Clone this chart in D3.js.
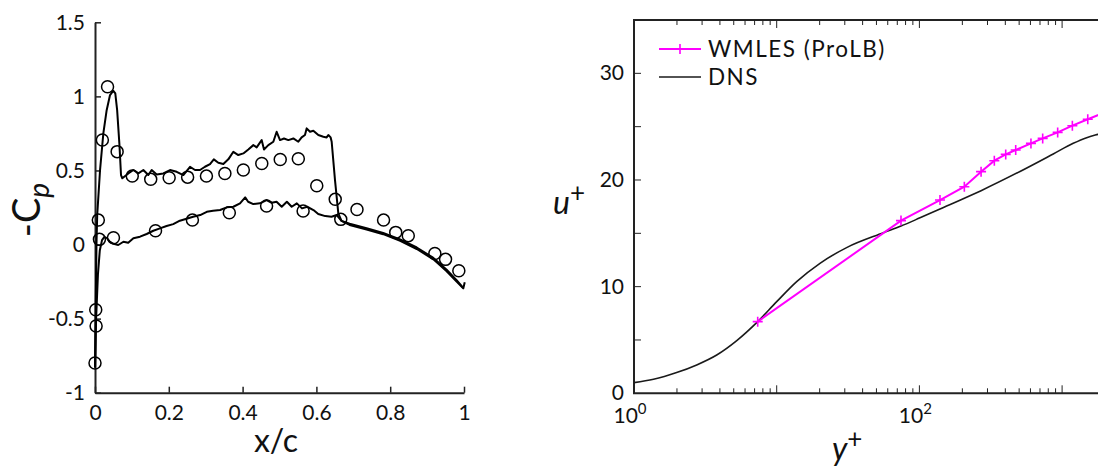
<!DOCTYPE html>
<html>
<head>
<meta charset="utf-8">
<script src="https://cdn.jsdelivr.net/npm/d3@7"></script>
<style>
  html, body { margin: 0; padding: 0; background: #fff; }
  svg { display: block; }
  text { font-family: Lato, "Open Sans", sans-serif; fill: #111; }
</style>
</head>
<body>
<svg id="fig" width="1098" height="469"></svg>
<script>
// ---------- Pressure coefficient along the chord ----------
const cpTicks = [-1, -0.5, 0, 0.5, 1, 1.5];
const xcTicks = [0, 0.2, 0.4, 0.6, 0.8, 1];

// LES, suction side: [x/c, -Cp]
const lesUpper = [
  [0.000,-0.83],[0.002,-0.40],[0.004,0.00],[0.006,0.20],[0.0136,0.50],[0.0226,0.75],
  [0.0316,0.907],[0.0407,1.009],[0.0497,1.038],[0.055,1.02],[0.060,0.907],[0.066,0.683],
  [0.0705,0.469],[0.074,0.447],[0.0903,0.480],[0.1039,0.503],[0.1174,0.480],[0.131,0.503],
  [0.1445,0.469],[0.1536,0.503],[0.1671,0.473],[0.1852,0.480],[0.2033,0.503],[0.2213,0.491],
  [0.2394,0.469],[0.2575,0.525],[0.271,0.503],[0.2846,0.503],[0.298,0.525],[0.3117,0.543],
  [0.322,0.575],[0.3342,0.552],[0.3478,0.543],[0.3613,0.575],[0.3749,0.626],[0.3884,0.604],
  [0.402,0.615],[0.4155,0.642],[0.4291,0.671],[0.4381,0.656],[0.4517,0.705],[0.458,0.642],
  [0.4697,0.671],[0.4833,0.694],[0.4923,0.761],[0.5014,0.705],[0.5122,0.716],[0.5239,0.705],
  [0.5375,0.716],[0.551,0.694],[0.560,0.723],[0.569,0.739],[0.5736,0.784],[0.5827,0.761],
  [0.5917,0.768],[0.6052,0.739],[0.6188,0.728],[0.6278,0.723],[0.6323,0.739],[0.6386,0.723],
  [0.6414,0.694],[0.6504,0.435],[0.6594,0.21],[0.668,0.160],[0.690,0.140],[0.736,0.110],
  [0.781,0.078],[0.827,0.035],[0.872,-0.020],[0.917,-0.090],[0.953,-0.170],[0.980,-0.240],
  [0.998,-0.292]
];

// LES, pressure side: [x/c, -Cp]
const lesLower = [
  [0.000,-0.83],[0.003,-0.50],[0.008,-0.20],[0.013,-0.04],[0.019,0.03],[0.025,0.05],
  [0.032,0.045],[0.040,0.02],[0.050,0.005],[0.063,-0.003],[0.077,0.019],[0.090,0.012],
  [0.104,0.042],[0.122,0.053],[0.140,0.071],[0.158,0.093],[0.176,0.109],[0.194,0.125],
  [0.212,0.138],[0.230,0.161],[0.248,0.174],[0.266,0.188],[0.285,0.199],[0.303,0.221],
  [0.320,0.228],[0.339,0.233],[0.357,0.251],[0.375,0.255],[0.393,0.278],[0.407,0.318],
  [0.415,0.289],[0.429,0.273],[0.447,0.278],[0.465,0.300],[0.479,0.282],[0.492,0.289],
  [0.506,0.255],[0.520,0.289],[0.533,0.255],[0.547,0.278],[0.561,0.244],[0.575,0.255],
  [0.592,0.233],[0.605,0.206],[0.624,0.192],[0.641,0.188],[0.655,0.199],[0.668,0.160],
  [0.690,0.132],[0.736,0.102],[0.781,0.070],[0.827,0.025],[0.872,-0.030],[0.917,-0.100],
  [0.953,-0.180],[0.980,-0.250],[0.998,-0.296],[1.002,-0.255]
];

// Experiment, both surfaces: [x/c, -Cp]
const expUpper = [
  [0.000,-0.80],[0.003,-0.55],[0.002,-0.44],[0.009,0.165],[0.020,0.705],[0.034,1.065],
  [0.060,0.627],[0.101,0.462],[0.151,0.440],[0.201,0.451],[0.251,0.455],[0.302,0.462],
  [0.352,0.480],[0.402,0.503],[0.452,0.547],[0.502,0.574],[0.551,0.579],[0.601,0.397],
  [0.651,0.305],[0.666,0.170],[0.710,0.237],[0.782,0.165],[0.815,0.082],[0.849,0.060],
  [0.921,-0.060],[0.950,-0.100],[0.986,-0.177]
];
const expLower = [
  [0.012,0.035],[0.050,0.046],[0.164,0.093],[0.264,0.165],[0.364,0.215],[0.465,0.260],
  [0.564,0.226]
];

// ---------- Mean velocity profile in wall units ----------
const uTicks = [0, 10, 20, 30];
const uMinorTicks = [5, 15, 25];
const yPlusLabelled = [1, 100];

// WMLES (ProLB): [y+, u+]
const wmles = [
  [7.36,6.72],[74.3,16.19],[139.4,18.12],[206.5,19.37],[270.5,20.78],[335,21.81],
  [402.6,22.40],[473,22.81],[605,23.43],[731,23.90],[931,24.46],[1180,25.09],
  [1513,25.69],[1950,26.30]
];

// DNS: [y+, u+]
const dns = [
  [1,1.0],[1.37,1.31],[1.99,1.94],[2.75,2.66],[3.8,3.59],[5.25,4.94],[7.36,6.72],
  [10,8.59],[13.8,10.47],[20.1,12.19],[30.9,13.66],[55.9,15.05],[74.3,15.68],
  [101,16.45],[139.4,17.28],[206.5,18.28],[270.5,19.0],[507,20.8],[867,22.44],
  [1197,23.44],[1486,23.97],[1785,24.28],[2200,24.6]
];

const svg = d3.select("#fig");

// ===== Left panel =====
const xL = d3.scaleLinear().domain([0, 1]).range([95, 464]);
const yL = d3.scaleLinear().domain([-1, 1.5]).range([392.7, 22.3]);
const gL = svg.append("g");

const numFmt = d => String(d);

const axL = gL.append("g").attr("transform", `translate(${xL(0)},0)`)
  .call(d3.axisLeft(yL).tickValues(cpTicks).tickFormat(numFmt)
    .tickSizeInner(-6).tickSizeOuter(0).tickPadding(10));
const axB = gL.append("g").attr("transform", `translate(0,${yL(-1)})`)
  .call(d3.axisBottom(xL).tickValues(xcTicks).tickFormat(numFmt)
    .tickSizeInner(-6).tickSizeOuter(0).tickPadding(12));
[axL, axB].forEach(a => {
  a.select(".domain").attr("stroke", "#222").attr("stroke-width", 2);
  a.selectAll(".tick line").attr("stroke", "#222").attr("stroke-width", 1.5);
  a.selectAll(".tick text").attr("font-size", 21).attr("font-family", "Lato, sans-serif").attr("fill", "#111");
});

const lineL = d3.line().x(d => xL(d[0])).y(d => yL(d[1]));
[lesUpper, lesLower].forEach(s => {
  gL.append("path").datum(s).attr("d", lineL)
    .attr("fill", "none").attr("stroke", "#000").attr("stroke-width", 2)
    .attr("stroke-linejoin", "round");
});
gL.append("g").selectAll("circle").data(expUpper.concat(expLower)).join("circle")
  .attr("cx", d => xL(d[0])).attr("cy", d => yL(d[1])).attr("r", 6)
  .attr("fill", "none").attr("stroke", "#000").attr("stroke-width", 1.5);

// axis titles
gL.append("text").attr("x", 276).attr("y", 452).attr("text-anchor", "middle")
  .attr("font-size", 32).text("x/c");
const cpLabel = gL.append("text").attr("transform", "translate(40,210) rotate(-90)")
  .attr("text-anchor", "middle").attr("font-size", 38);
cpLabel.append("tspan").text("-C");
cpLabel.append("tspan").attr("font-size", 28).attr("font-style", "italic").attr("dy", 9).text("p");

// ===== Right panel =====
const x0 = 634, decade = 142.7;
const xR = d3.scaleLog().domain([1, 1e4]).range([x0, x0 + 4 * decade]);
const yR = d3.scaleLinear().domain([0, 35]).range([393.3, 20]);
const gR = svg.append("g");

// minor and major log ticks on bottom and top
const logTicks = [];
for (let e = 0; e < 4; e++) for (let m = 1; m < 10; m++) logTicks.push(m * Math.pow(10, e));
logTicks.push(1e4);
[[yR(0), -1], [yR(35), 1]].forEach(([yy, dir]) => {
  gR.append("g").selectAll("line").data(logTicks.filter(v => v > 1)).join("line")
    .attr("x1", d => xR(d)).attr("x2", d => xR(d))
    .attr("y1", yy).attr("y2", d => yy + dir * (Number.isInteger(Math.log10(d)) ? 8 : 5))
    .attr("stroke", "#222").attr("stroke-width", 1);
});
// y ticks
gR.append("g").selectAll("line").data(uTicks.concat(uMinorTicks).filter(v => v > 0)).join("line")
  .attr("x1", x0).attr("x2", x0 + 7).attr("y1", d => yR(d)).attr("y2", d => yR(d))
  .attr("stroke", "#222").attr("stroke-width", 1);
gR.append("g").selectAll("text").data(uTicks).join("text")
  .attr("x", 624).attr("y", d => yR(d) + 7).attr("text-anchor", "end")
  .attr("font-size", 21).text(d => d);
// x tick labels (powers of ten)
const xl = gR.append("g").selectAll("text").data(yPlusLabelled).join("text")
  .attr("x", d => xR(d) - 4).attr("y", 423).attr("text-anchor", "middle").attr("font-size", 21);
xl.append("tspan").text("10");
xl.append("tspan").attr("font-size", 15).attr("dy", -9).text(d => Math.round(Math.log10(d)));

// frame
gR.append("path")
  .attr("d", `M${x0 + 4 * decade},${yR(35)}H${x0}V${yR(0)}H${x0 + 4 * decade}`)
  .attr("fill", "none").attr("stroke", "#222").attr("stroke-width", 2);

const lineR = d3.line().x(d => xR(d[0])).y(d => yR(d[1])).curve(d3.curveMonotoneX);
gR.append("path").datum(dns).attr("d", lineR)
  .attr("fill", "none").attr("stroke", "#1a1a1a").attr("stroke-width", 1.6);
const lineW = d3.line().x(d => xR(d[0])).y(d => yR(d[1]));
gR.append("path").datum(wmles).attr("d", lineW)
  .attr("fill", "none").attr("stroke", "#ff00ff").attr("stroke-width", 2);
gR.append("g").selectAll("path").data(wmles).join("path")
  .attr("transform", d => `translate(${xR(d[0])},${yR(d[1])})`)
  .attr("d", "M-5,0H5M0,-5V5").attr("stroke", "#ff00ff").attr("stroke-width", 1.6);

// axis titles
const uLab = gR.append("text").attr("x", 553).attr("y", 214).attr("font-size", 32);
uLab.append("tspan").attr("font-style", "italic").text("u");
uLab.append("tspan").attr("font-size", 26).attr("dy", -12).text("+");
const yLab = gR.append("text").attr("x", 832).attr("y", 460).attr("font-size", 32);
yLab.append("tspan").attr("font-style", "italic").text("y");
yLab.append("tspan").attr("font-size", 26).attr("dy", -12).text("+");

// legend
const legend = [
  { name: "WMLES (ProLB)", color: "#ff00ff", width: 2, marker: true },
  { name: "DNS", color: "#1a1a1a", width: 1.6, marker: false }
];
const lg = gR.append("g").selectAll("g").data(legend).join("g")
  .attr("transform", (d, i) => `translate(659,${49 + i * 28})`);
lg.append("line").attr("x1", 0).attr("x2", 42)
  .attr("stroke", d => d.color).attr("stroke-width", d => d.width);
lg.filter(d => d.marker).append("path").attr("d", "M16,0H26M21,-5V5")
  .attr("stroke", d => d.color).attr("stroke-width", 1.6);
lg.append("text").attr("x", 49).attr("y", 8).attr("font-size", 22.5)
  .attr("letter-spacing", 1.5).text(d => d.name);
</script>
</body>
</html>
